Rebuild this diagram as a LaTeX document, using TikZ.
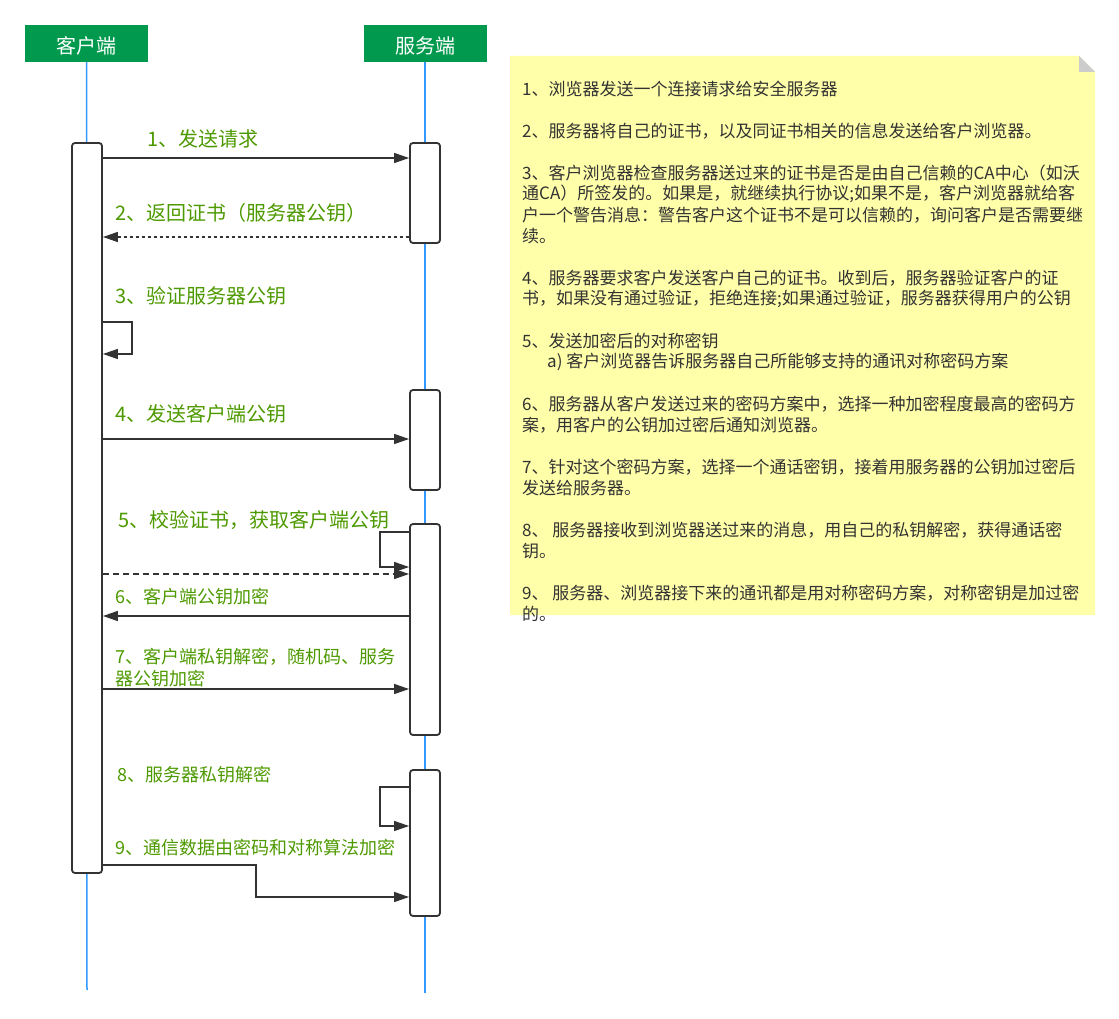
\documentclass[tikz,border=0pt]{standalone}
\usepackage{fontspec}
\setmainfont{Noto Sans CJK SC}
\usetikzlibrary{arrows.meta}
\definecolor{hdrgreen}{HTML}{00994D}
\definecolor{lblgreen}{HTML}{4D9900}
\definecolor{lifeblue}{HTML}{3399FF}
\definecolor{notey}{HTML}{FFFFAA}
\definecolor{ink}{HTML}{333333}
\begin{document}
\begin{tikzpicture}[x=1pt,y=-1pt,
        hdr/.style={fill=hdrgreen,text=white,minimum width=123pt,minimum height=37pt,inner sep=0pt,text height=21pt,text depth=0pt,font=\fontsize{20}{24}\selectfont},
        act/.style={draw=ink,line width=1.8pt,fill=white,rounded corners=3pt,minimum width=30pt,inner sep=0pt},
        life/.style={lifeblue,line width=1.5pt},
        msg/.style={ink,line width=1.4pt,-{Triangle[length=15pt,width=10pt]}},
        lbl/.style={text=lblgreen,anchor=west,inner sep=0pt,font=\fontsize{20}{24}\selectfont},
        lbls/.style={lbl,font=\fontsize{18}{22}\selectfont},
        note/.style={text=ink,anchor=west,inner sep=0pt,font=\fontsize{17}{21}\selectfont}]
        \useasboundingbox (0,0) rectangle (1119,1019);
        % lifelines
        \node[hdr] (cli) at (86.5,43.5) {客户端};
        \node[hdr] (srv) at (425,43.5) {服务端};
        \coordinate (cliend) at (87,990);
        \coordinate (srvend) at (425,993);
        \draw[life] (cli.south) -- (cliend);
        \draw[life] (srv.south) -- (srvend);
        % activations
        \node[act,minimum height=730pt] (ca) at (87,508) {};
        \node[act,minimum height=100pt] (sa1) at (425,193) {};
        \node[act,minimum height=100pt] (sa2) at (425,440) {};
        \node[act,minimum height=211pt] (sa3) at (425,629.5) {};
        \node[act,minimum height=146pt] (sa4) at (425,843) {};
        % messages
        \draw[msg] (ca.east |- 0,158) -- (sa1.west |- 0,158);
        \node[lbl] (l1) at (147,139) {1、发送请求};
        \draw[msg,dash pattern=on 3pt off 3pt] (sa1.west |- 0,237) -- (ca.east |- 0,237);
        \node[lbl] (l2) at (115,213) {2、返回证书（服务器公钥）};
        \draw[msg] (ca.east |- 0,322) -| (132,354) -- (ca.east |- 0,354);
        \node[lbl] (l3) at (115,296) {3、验证服务器公钥};
        \draw[msg] (ca.east |- 0,439) -- (sa2.west |- 0,439);
        \node[lbl] (l4) at (115,414) {4、发送客户端公钥};
        \draw[msg] (sa3.west |- 0,532) -| (380,567) -- (sa3.west |- 0,567);
        \draw[msg,dash pattern=on 6pt off 4pt] (ca.east |- 0,574) -- (sa3.west |- 0,574);
        \node[lbl] (l5) at (118,520) {5、校验证书，获取客户端公钥};
        \draw[msg] (sa3.west |- 0,616) -- (ca.east |- 0,616);
        \node[lbls] (l6) at (115,597) {6、客户端公钥加密};
        \draw[msg] (ca.east |- 0,689) -- (sa3.west |- 0,689);
        \node[lbls,align=left] (l7) at (115,668) {7、客户端私钥解密，随机码、服务\\器公钥加密};
        \draw[msg] (sa4.west |- 0,787) -| (380,826) -- (sa4.west |- 0,826);
        \node[lbls] (l8) at (117,775) {8、服务器私钥解密};
        \draw[msg] (ca.east |- 0,865) -| (256,897) -- (sa4.west |- 0,897);
        \node[lbls] (l9) at (115,848) {9、通信数据由密码和对称算法加密};
        % note
        \fill[notey] (510,56) -- (1079,56) -- (1095,72) -- (1095,615) -- (510,615) -- cycle;
        \fill[black!20] (1079,56) -- (1079,72) -- (1095,72) -- cycle;
        \foreach \x/\y/\t [count=\i] in {
            522/89/{1、浏览器发送一个连接请求给安全服务器},
            522/131/{2、服务器将自己的证书，以及同证书相关的信息发送给客户浏览器。},
            522/173/{3、客户浏览器检查服务器送过来的证书是否是由自己信赖的CA中心（如沃},
            522/194/{通CA）所签发的。如果是，就继续执行协议;如果不是，客户浏览器就给客},
            522/215/{户一个警告消息：警告客户这个证书不是可以信赖的，询问客户是否需要继},
            522/236/{续。},
            522/278/{4、服务器要求客户发送客户自己的证书。收到后，服务器验证客户的证},
            522/299/{书，如果没有通过验证，拒绝连接;如果通过验证，服务器获得用户的公钥},
            522/341/{5、发送加密后的对称密钥},
            547/362/{a) 客户浏览器告诉服务器自己所能够支持的通讯对称密码方案},
            522/404/{6、服务器从客户发送过来的密码方案中，选择一种加密程度最高的密码方},
            522/425/{案，用客户的公钥加过密后通知浏览器。},
            522/467/{7、针对这个密码方案，选择一个通话密钥，接着用服务器的公钥加过密后},
            522/488/{发送给服务器。},
            522/530/{8、 服务器接收到浏览器送过来的消息，用自己的私钥解密，获得通话密},
            522/551/{钥。},
            522/593/{9、 服务器、浏览器接下来的通讯都是用对称密码方案，对称密钥是加过密},
            522/614/{的。}}
            \node[note] (n\i) at (\x,\y) {\t};
    \end{tikzpicture}
\end{document}
